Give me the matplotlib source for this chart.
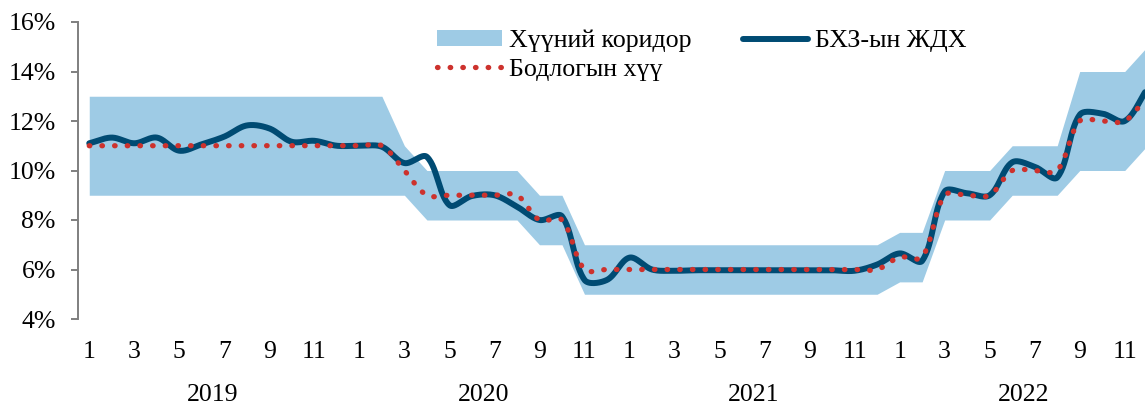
import numpy as np
import matplotlib
matplotlib.use("Agg")
import matplotlib.pyplot as plt
import matplotlib.transforms as mtransforms
from matplotlib.patches import Patch
from matplotlib.lines import Line2D

plt.rcParams['font.family'] = ['Liberation Serif', 'DejaVu Serif']

# =========================
# DATA (monthly, Jan 2019 - Dec 2022)
# =========================
years = ["2019", "2020", "2021", "2022"]
month_labels = ["1", "3", "5", "7", "9", "11"]

policy_rate = [11, 11, 11, 11, 11, 11, 11, 11, 11, 11, 11, 11,
               11, 11, 10, 9, 9, 9, 9, 9, 8, 8, 6, 6,
               6, 6, 6, 6, 6, 6, 6, 6, 6, 6, 6, 6,
               6.5, 6.5, 9, 9, 9, 10, 10, 10, 12, 12, 12, 13]

corridor_low = [9, 9, 9, 9, 9, 9, 9, 9, 9, 9, 9, 9,
                9, 9, 9, 8, 8, 8, 8, 8, 7, 7, 5, 5,
                5, 5, 5, 5, 5, 5, 5, 5, 5, 5, 5, 5,
                5.5, 5.5, 8, 8, 8, 9, 9, 9, 10, 10, 10, 11]

corridor_high = [13, 13, 13, 13, 13, 13, 13, 13, 13, 13, 13, 13,
                 13, 13, 11, 10, 10, 10, 10, 10, 9, 9, 7, 7,
                 7, 7, 7, 7, 7, 7, 7, 7, 7, 7, 7, 7,
                 7.5, 7.5, 10, 10, 10, 11, 11, 11, 14, 14, 14, 15]

interbank_rate = [11.1, 11.33, 11.1, 11.33, 10.8, 11.06, 11.37, 11.82, 11.7, 11.16, 11.2, 11.0,
                  11.0, 10.96, 10.3, 10.55, 8.6, 8.97, 9.0, 8.54, 8.0, 8.15, 5.58, 5.58,
                  6.48, 6.0, 5.95, 5.97, 5.97, 5.97, 5.97, 5.97, 5.97, 5.97, 5.95, 6.2,
                  6.65, 6.35, 9.15, 9.08, 9.0, 10.33, 10.15, 9.72, 12.25, 12.3, 12.0, 13.3]

BAND_COLOR = "#9ecbe5"
LINE_COLOR = "#004b73"
DOT_COLOR = "#cd322d"

PX_X = 22.5    # pixels per month
PX_Y = 24.75   # pixels per percentage point


def smooth(values, steps=30):
    """Excel-like smoothed line: Bezier segments, control points scaled by chord length."""
    pts = np.column_stack([np.arange(len(values)) * PX_X,
                           np.asarray(values, dtype=float) * PX_Y])
    n = len(pts)
    after = np.zeros_like(pts)
    before = np.zeros_like(pts)
    for i in range(n):
        prev = pts[i - 1] if i > 0 else pts[i]
        nxt = pts[i + 1] if i < n - 1 else pts[i]
        tan = nxt - prev
        d0 = np.hypot(*(pts[i] - prev))
        d1 = np.hypot(*(nxt - pts[i]))
        tot = d0 + d1
        after[i] = pts[i] + tan * (d1 / tot) / 3 if tot else pts[i]
        before[i] = pts[i] - tan * (d0 / tot) / 3 if tot else pts[i]
    t = np.linspace(0, 1, steps, endpoint=False)[:, None]
    segs = []
    for i in range(n - 1):
        b = ((1 - t) ** 3 * pts[i] + 3 * (1 - t) ** 2 * t * after[i]
             + 3 * (1 - t) * t ** 2 * before[i + 1] + t ** 3 * pts[i + 1])
        segs.append(b)
    segs.append(pts[-1:])
    out = np.vstack(segs)
    return out[:, 0] / PX_X, out[:, 1] / PX_Y


x = np.arange(len(policy_rate))

fig = plt.figure(figsize=(11.45, 4.07), dpi=100)
ax = fig.add_axes([78 / 1145, 88 / 407, 1 - 78 / 1145, 297 / 407])

ax.fill_between(x, corridor_low, corridor_high, color=BAND_COLOR, lw=0, zorder=1)

xs, ys = smooth(interbank_rate)
ax.plot(xs, ys, color=LINE_COLOR, lw=4.3, solid_capstyle="round", zorder=2)

xs, ys = smooth(policy_rate)
ax.plot(xs, ys, color=DOT_COLOR, lw=3.8, linestyle=(0, (0.1, 2.3)),
        dash_capstyle="round", zorder=3)

# axes
ax.set_xlim(-0.5, 46.9)
ax.set_ylim(4, 16)
ax.set_yticks(np.arange(4, 17, 2))
ax.set_yticklabels([f"{v}%" for v in range(4, 17, 2)])
for s in ["top", "right", "bottom"]:
    ax.spines[s].set_visible(False)
ax.spines["left"].set_color("#7f7f7f")
ax.spines["left"].set_linewidth(1.4)
ax.tick_params(axis="y", direction="out", length=5, width=1.4, color="#7f7f7f",
               labelsize=18.5, pad=11)

ticks = [12 * k + m for k in range(len(years)) for m in range(0, 12, 2)]
ax.set_xticks(ticks)
ax.set_xticklabels(month_labels * len(years))
ax.tick_params(axis="x", length=0, labelsize=18.5, pad=16)

trans = mtransforms.blended_transform_factory(ax.transData, fig.transFigure)
for k, yr in enumerate(years):
    ax.text(12 * k + 5.5, 0.015, yr, transform=trans, ha="center", va="baseline",
            fontsize=18.5)

# legend
handles = [
    Patch(facecolor=BAND_COLOR, edgecolor="none"),
    Line2D([], [], color=DOT_COLOR, lw=3.8, linestyle=(0, (0.1, 2.3)),
           dash_capstyle="round"),
    Line2D([], [], color=LINE_COLOR, lw=4.3, solid_capstyle="round"),
]
labels = ["Хүүний коридор", "Бодлогын хүү", "БХЗ-ын ЖДХ"]
fig.legend(handles, labels, ncol=2, frameon=False, fontsize=18.7,
           loc="upper left", bbox_to_anchor=(437 / 1145, 1 - 30 / 407),
           borderpad=0, borderaxespad=0, handlelength=2.5, handletextpad=0.27,
           columnspacing=2.0, labelspacing=0.24, handleheight=0.55)

fig.savefig("out.png", dpi=100)
